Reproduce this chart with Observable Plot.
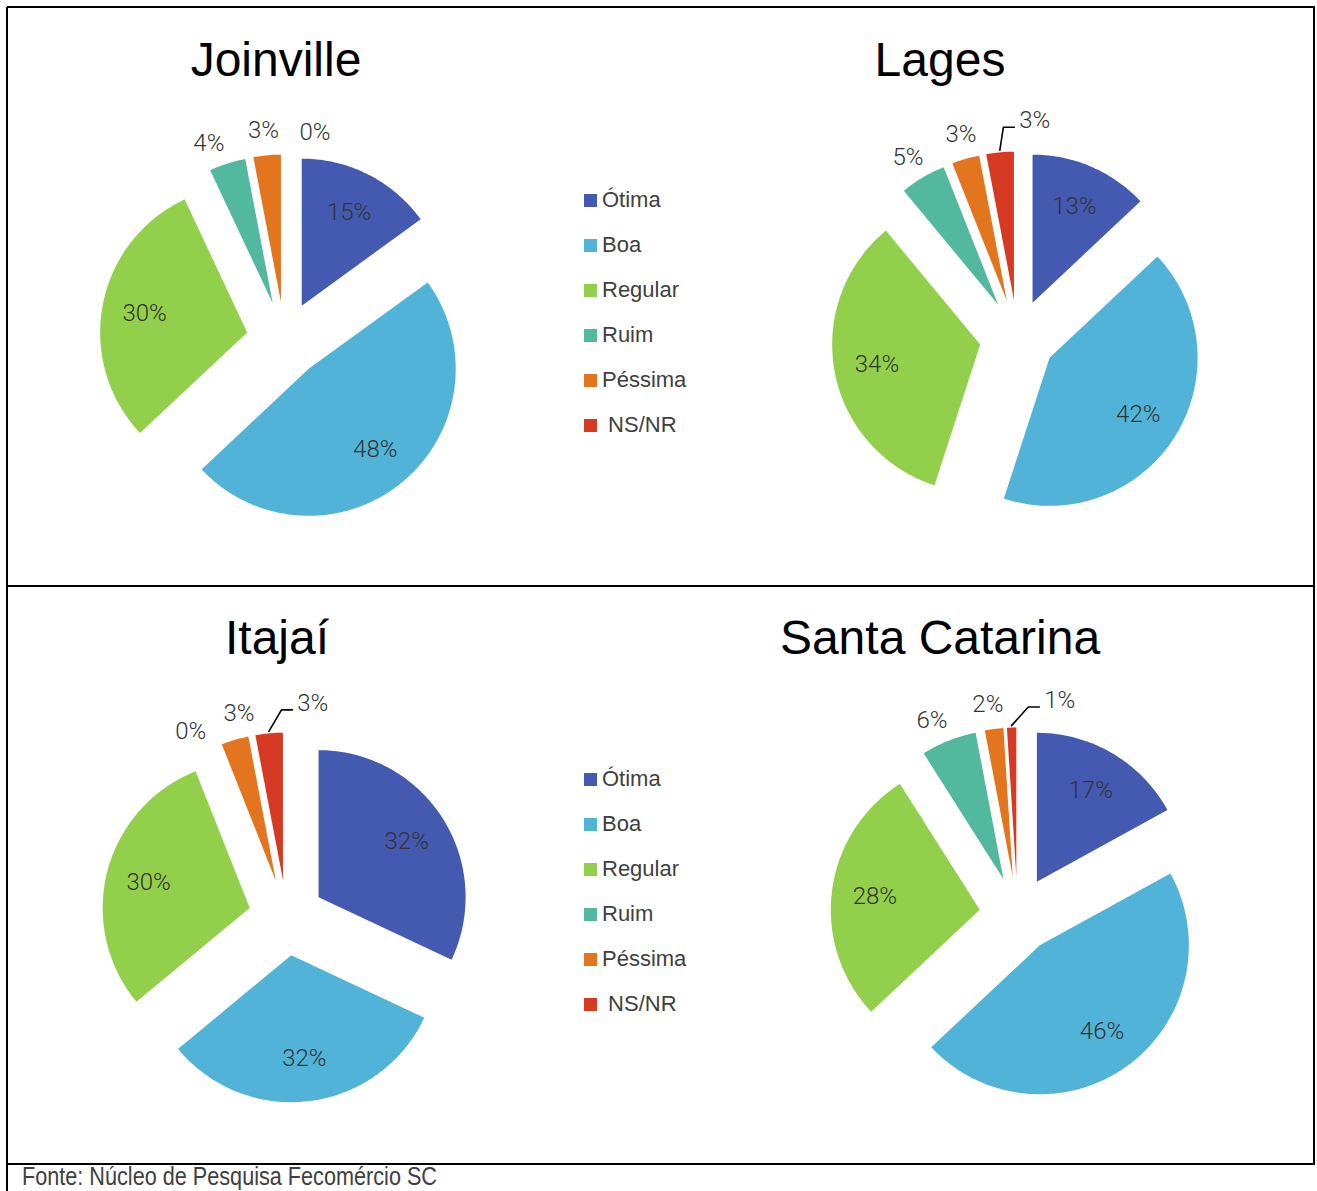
<!DOCTYPE html>
<html><head><meta charset="utf-8">
<script src="https://cdn.jsdelivr.net/npm/d3@7"></script>
<script src="https://cdn.jsdelivr.net/npm/@observablehq/plot@0.6"></script>
<style>
body{margin:0;background:#fff;}
#page{position:relative;width:1317px;height:1191px;overflow:hidden;font-family:"Liberation Sans",Arial,sans-serif;background:#fff;}
.rule{position:absolute;background:#000;}
.title{position:absolute;font-size:48px;line-height:48px;color:#000;transform:translateX(-50%);white-space:nowrap;}
.item{position:absolute;display:flex;align-items:center;font-size:22px;line-height:26px;color:#404040;white-space:pre;font-family:"Liberation Sans",Arial,sans-serif;}
.sw{width:13px;height:13px;margin-right:5px;flex:none;}
.pie{position:absolute;}
.caption{position:absolute;left:22px;top:1164px;font-size:25px;line-height:25px;color:#404040;white-space:nowrap;font-family:"Liberation Sans",Arial,sans-serif;transform-origin:0 0;}
</style></head><body><div id="page"></div>
<script>
// ---------- data ----------
const categories = ["Ótima", "Boa", "Regular", "Ruim", "Péssima", "NS/NR"];
const legendLabels = ["Ótima", "Boa", "Regular", "Ruim", "Péssima", " NS/NR"];
const categoryColors = ["#4459B0", "#51B3D8", "#92CF4A", "#52B89E", "#E3751F", "#D73A22"];
const cities = ["Joinville", "Lages", "Itajaí", "Santa Catarina"];
const joinville = [15, 48, 30, 4, 3, 0];
const lages = [13, 42, 34, 5, 3, 3];
const itajai = [32, 32, 30, 0, 3, 3];
const santaCatarina = [17, 46, 28, 6, 2, 1];
const sourceNote = "Fonte: Núcleo de Pesquisa Fecomércio SC";

// ---------- layout ----------
const panels = [
  {city: cities[0], values: joinville, cx: 284, cy: 339, r: 147, tx: 276, ty: 36},
  {city: cities[1], values: lages, cx: 1017, cy: 337, r: 148, tx: 940, ty: 36},
  {city: cities[2], values: itajai, cx: 286, cy: 917, r: 147, tx: 277, ty: 614},
  {city: cities[3], values: santaCatarina, cx: 1017, cy: 914, r: 149, tx: 940, ty: 614}
];
const legends = [{x: 584, y0: 200}, {x: 584, y0: 779}];
const explode = 38, W = 520, H = 540, padTop = 290;
const deg = Math.PI / 180;

const page = document.getElementById("page");
function rule(l, t, w, h) {
  const d = document.createElement("div");
  d.className = "rule";
  Object.assign(d.style, {left: l + "px", top: t + "px", width: w + "px", height: h + "px"});
  page.appendChild(d);
}
rule(7, 6, 1308, 2);
rule(6, 7, 2, 1184);
rule(1313, 7, 2, 1158);
rule(7, 585, 1308, 2);
rule(7, 1163, 1308, 2);

function textWidth(s, fs) {
  let w = 0;
  for (const c of s) w += (c === "%" ? 0.889 : 0.556);
  return w * fs;
}

function spread(desired, S) {
  let clusters = desired.map((d, i) => ({start: i, n: 1, pos: d}));
  let changed = true;
  while (changed) {
    changed = false;
    for (let k = 0; k < clusters.length - 1; k++) {
      const a = clusters[k], b = clusters[k + 1];
      if (a.pos + a.n * S > b.pos) {
        const n = a.n + b.n, start = a.start;
        let s = 0;
        for (let j = 0; j < n; j++) s += desired[start + j] - j * S;
        clusters.splice(k, 2, {start, n, pos: s / n});
        changed = true;
        break;
      }
    }
  }
  const out = [];
  for (const c of clusters) for (let j = 0; j < c.n; j++) out.push(c.pos + j * S);
  return out;
}

function buildPie(p) {
  const total = d3.sum(p.values);
  const r = p.r, fs = 24;
  const polys = [], labels = [], leaders = [];
  let acc = 0;
  const info = p.values.map((v, i) => {
    const a0 = acc / total * 360; acc += v; const a1 = acc / total * 360;
    const m = (a0 + a1) / 2;
    const ox = explode * Math.sin(m * deg), oy = -explode * Math.cos(m * deg);
    if (v > 0) {
      polys.push({cat: categories[i], x: ox, y: oy});
      const n = Math.max(2, Math.ceil((a1 - a0) / 1));
      for (let k = 0; k <= n; k++) {
        const a = (a0 + (a1 - a0) * k / n) * deg;
        polys.push({cat: categories[i], x: ox + r * Math.sin(a), y: oy - r * Math.cos(a)});
      }
      polys.push({cat: categories[i], x: ox, y: oy});
    }
    return {i, v, m, ox, oy, text: v + "%"};
  });
  // inside labels
  info.filter(d => d.v >= 10).forEach(d => {
    labels.push({x: d.ox + 0.71 * r * Math.sin(d.m * deg), y: d.oy - 0.71 * r * Math.cos(d.m * deg), text: d.text});
  });
  // outside labels
  const outs = info.filter(d => d.v < 10).sort((a, b) => a.m - b.m);
  const placed = spread(outs.map(d => d.m), 16);
  outs.forEach((d, k) => {
    let ang = placed[k] + 2, dist = 1.17 * r;
    const lead = d.v > 0 && placed[k] - d.m > 3;
    if (lead) { ang += 6; dist = 1.22 * r; }
    const lx = d.ox + dist * Math.sin(ang * deg), ly = d.oy - dist * Math.cos(ang * deg);
    labels.push({x: lx, y: ly, text: d.text});
    if (lead) {
      const left = lx - textWidth(d.text, fs) / 2;
      const sx = d.ox + (r + 2) * Math.sin(d.m * deg), sy = d.oy - (r + 2) * Math.cos(d.m * deg);
      leaders.push({id: d.i, x: sx, y: sy});
      leaders.push({id: d.i, x: left - 14, y: ly + 7});
      leaders.push({id: d.i, x: left - 3, y: ly + 7});
    }
  });

  const chart = Plot.plot({
    width: W, height: H,
    margin: 0,
    x: {domain: [-W / 2, W / 2], range: [0, W], axis: null},
    y: {domain: [-padTop, H - padTop], range: [0, H], axis: null},
    color: {domain: categories, range: categoryColors},
    style: {background: "transparent", overflow: "visible", fontFamily: "Roboto, 'Liberation Sans', sans-serif"},
    marks: [
      Plot.line(polys, {x: "x", y: "y", z: "cat", fill: "cat", stroke: "none", curve: "linear"}),
      Plot.line(leaders, {x: "x", y: "y", z: "id", stroke: "#000", strokeWidth: 1.6}),
      Plot.text(labels, {x: "x", y: "y", text: "text", fontSize: fs, fill: "#333", fontWeight: 300})
    ]
  });
  chart.classList.add("pie");
  chart.style.left = (p.cx - W / 2) + "px";
  chart.style.top = (p.cy - padTop) + "px";
  page.appendChild(chart);

  const t = document.createElement("div");
  t.className = "title";
  t.textContent = p.city;
  t.style.left = p.tx + "px";
  t.style.top = p.ty + "px";
  page.appendChild(t);
}
panels.forEach(buildPie);

legends.forEach(L => {
  categories.forEach((c, i) => {
    const it = document.createElement("div");
    it.className = "item";
    it.style.left = L.x + "px";
    it.style.top = (L.y0 + i * 45 - 13) + "px";
    const sw = document.createElement("span");
    sw.className = "sw";
    sw.style.background = categoryColors[i];
    const tx = document.createElement("span");
    tx.textContent = legendLabels[i];
    it.appendChild(sw); it.appendChild(tx);
    page.appendChild(it);
  });
});

const cap = document.createElement("div");
cap.className = "caption";
cap.textContent = sourceNote;
page.appendChild(cap);
const cw = cap.getBoundingClientRect().width;
if (cw > 0) cap.style.transform = "scaleX(" + (415 / cw) + ")";
</script>
</body></html>
